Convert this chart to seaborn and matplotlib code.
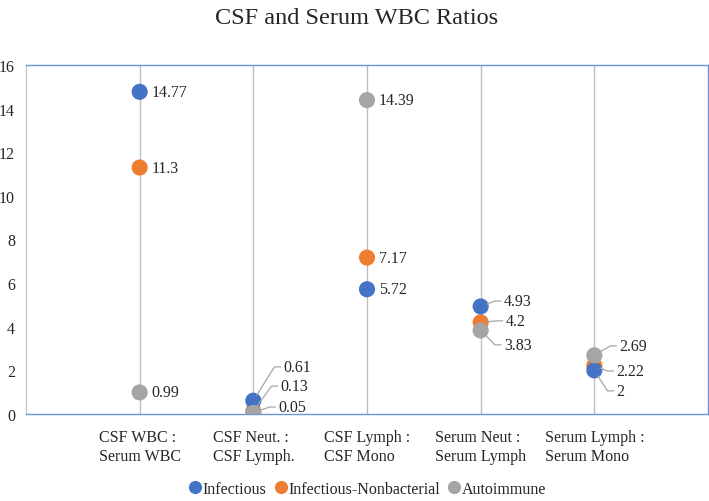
import matplotlib
matplotlib.use("Agg")
import matplotlib.pyplot as plt
import seaborn as sns
import pandas as pd
import numpy as np
from matplotlib.lines import Line2D

categories = ["CSF WBC :\nSerum WBC", "CSF Neut. :\nCSF Lymph.", "CSF Lymph :\nCSF Mono",
              "Serum Neut :\nSerum Lymph", "Serum Lymph :\nSerum Mono"]
infectious = [14.77, 0.61, 5.72, 4.93, 2.0]
nonbacterial = [11.3, 0.13, 7.17, 4.2, 2.22]
autoimmune = [0.99, 0.05, 14.39, 3.83, 2.69]
series_names = ["Infectious", "Infectious-Nonbacterial", "Autoimmune"]
colors = {"Infectious": "#4472C4", "Infectious-Nonbacterial": "#ED7D31", "Autoimmune": "#A5A5A5"}
yticks = [0, 2, 4, 6, 8, 10, 12, 14, 16]

sns.set_theme(style="white")
plt.rcParams["font.family"] = ["Liberation Serif", "DejaVu Serif"]

values = {"Infectious": infectious, "Infectious-Nonbacterial": nonbacterial, "Autoimmune": autoimmune}
draw_order = ["Infectious-Nonbacterial", "Infectious", "Autoimmune"]
rows = []
for s in draw_order:
    for i, v in enumerate(values[s]):
        rows.append({"pos": i + 1, "value": v, "series": s})
df = pd.DataFrame(rows)

FS = 11.5
TXT = "#262626"

fig = plt.figure(figsize=(7.09, 5.02), dpi=100)
ax = fig.add_axes([26 / 709, 1 - 415 / 502, (708 - 26) / 709, (415 - 66) / 502])

sns.scatterplot(data=df, x="pos", y="value", hue="series", hue_order=series_names,
                palette=colors, s=135, edgecolor="none", linewidth=0, ax=ax,
                legend=False, zorder=3)

ax.set_xlim(0, 6)
ax.set_ylim(0, 16)
ax.set_yticks(yticks)
ax.set_yticklabels([str(t) for t in yticks], fontsize=FS, color=TXT)
ax.set_xticks(range(1, 6))
ax.set_xticklabels(categories, fontsize=FS, color=TXT, linespacing=1.2)
for lbl in ax.get_xticklabels():
    lbl.set_multialignment("left")
ax.tick_params(axis="both", length=0)
ax.tick_params(axis="x", pad=11)
ax.tick_params(axis="y", pad=8)
ax.set_xlabel("")
ax.set_ylabel("")
for x in range(1, 6):
    ax.axvline(x, color="#BFBFBF", lw=1, zorder=1)

for side in ["top", "bottom", "right"]:
    ax.spines[side].set_color("#6F94D6")
    ax.spines[side].set_linewidth(1)
ax.spines["left"].set_color("#C8C8C8")
ax.spines["left"].set_linewidth(1)

# simple labels to the right of points
simple = [(1, 14.77), (1, 11.3), (1, 0.99), (3, 14.39), (3, 7.17), (3, 5.72)]
for x, v in simple:
    ax.annotate(f"{v:g}", xy=(x, v), xytext=(8.5, 0), textcoords="offset points",
                ha="left", va="center", fontsize=FS, color=TXT)

# labels with leader lines: (x, value, label_x, label_y) in data coords
leader = [
    (2, 0.61, 2.265, 2.16), (2, 0.13, 2.24, 1.28), (2, 0.05, 2.22, 0.32),
    (4, 4.93, 4.205, 5.18), (4, 4.2, 4.22, 4.27), (4, 3.83, 4.205, 3.17),
    (5, 2.69, 5.22, 3.12), (5, 2.22, 5.195, 1.97), (5, 2.0, 5.195, 1.06),
]
inv = ax.transData.inverted()
for x, v, lx, ly in leader:
    ax.text(lx, ly, f"{v:g}", ha="left", va="center", fontsize=FS, color=TXT)
    P = ax.transData.transform((x, v))
    T = ax.transData.transform((lx, ly))
    C1 = T + np.array([-2.5, 0.0])
    C0 = T + np.array([-9.0, 0.0])
    d = C0 - P
    n = np.hypot(*d)
    P0 = P + d / n * 6.0 if n > 6 else P
    pts = inv.transform(np.array([P0, C0, C1]))
    ax.plot(pts[:, 0], pts[:, 1], color="#A6A6A6", lw=0.9, zorder=4,
            solid_capstyle="butt")

fig.text(367 / 709 - 0.015, 1 - 18 / 502, "CSF and Serum WBC Ratios", ha="center", va="center",
         fontsize=17.5, color=TXT)

handles = [Line2D([0], [0], marker="o", linestyle="", markersize=9.5,
                  markerfacecolor=colors[s], markeredgecolor="none") for s in series_names]
fig.legend(handles, series_names, loc="center", bbox_to_anchor=(367 / 709, 1 - 490 / 502),
           ncol=3, frameon=False, fontsize=FS, handletextpad=0.0, columnspacing=0.45,
           handlelength=0.9, labelcolor=TXT)

fig.savefig("out.png", dpi=100)
